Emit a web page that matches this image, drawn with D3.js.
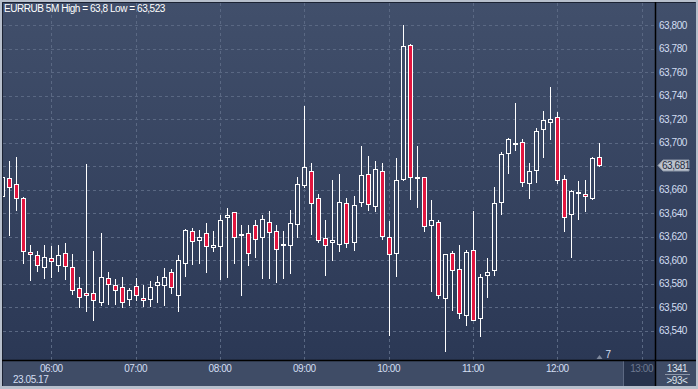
<!DOCTYPE html>
<html>
<head>
<meta charset="utf-8">
<script src="https://cdn.jsdelivr.net/npm/d3@7"></script>
<style>
  body { margin: 0; background: #b7bfcc; }
  svg { display: block; font-family: Arial, "Liberation Sans", sans-serif; }
</style>
</head>
<body>
<div id="chart"></div>
<script>
// EURRUB 5 minute bars, 23.05.17
let day = "2017-05-23"
let symbol = "EURRUB", period = "5M"

let times = [
  "05:25", "05:30", "05:35", "05:40", "05:45", "05:50", "05:55",
  "06:00", "06:05", "06:10", "06:15", "06:20", "06:25", "06:30", "06:35", "06:40", "06:45", "06:50", "06:55",
  "07:00", "07:05", "07:10", "07:15", "07:20", "07:25", "07:30", "07:35", "07:40", "07:45", "07:50", "07:55",
  "08:00", "08:05", "08:10", "08:15", "08:20", "08:25", "08:30", "08:35", "08:40", "08:45", "08:50", "08:55",
  "09:00", "09:05", "09:10", "09:15", "09:20", "09:25", "09:30", "09:35", "09:40", "09:45", "09:50", "09:55",
  "10:00", "10:05", "10:10", "10:15", "10:20", "10:25", "10:30", "10:35", "10:40", "10:45", "10:50", "10:55",
  "11:00", "11:05", "11:10", "11:15", "11:20", "11:25", "11:30", "11:35", "11:40", "11:45", "11:50", "11:55",
  "12:00", "12:05", "12:10", "12:15", "12:20", "12:25", "12:30"
]
let opens = [
  63.6546, 63.670, 63.665, 63.653, 63.607, 63.604, 63.594,
  63.602, 63.596, 63.606, 63.5945, 63.576, 63.572, 63.572, 63.564, 63.5845, 63.579, 63.577, 63.567,
  63.578, 63.568, 63.567, 63.579, 63.579, 63.590, 63.5705, 63.598, 63.625, 63.6175, 63.623, 63.611,
  63.612, 63.6365, 63.641, 63.622, 63.623, 63.630, 63.620, 63.6325, 63.625, 63.613, 63.613, 63.631,
  63.664, 63.676, 63.653, 63.619, 63.6155, 63.6135, 63.6485, 63.6155, 63.6495, 63.6735, 63.646, 63.676,
  63.620, 63.606, 63.669, 63.783, 63.670, 63.671, 63.630, 63.6325, 63.568, 63.606, 63.5925, 63.553,
  63.609, 63.551, 63.587, 63.592, 63.6495, 63.691, 63.700, 63.7005, 63.6655, 63.677, 63.7115, 63.7175,
  63.722, 63.669, 63.6395, 63.657, 63.656, 63.653, 63.688
]
let highs = [
  63.672, 63.684, 63.688, 63.654, 63.613, 63.608, 63.613,
  63.612, 63.613, 63.615, 63.6055, 63.586, 63.682, 63.608, 63.623, 63.590, 63.584, 63.586, 63.576,
  63.585, 63.579, 63.582, 63.5865, 63.593, 63.5925, 63.604, 63.6265, 63.627, 63.626, 63.632, 63.625,
  63.638, 63.644, 63.641, 63.6295, 63.630, 63.6345, 63.638, 63.642, 63.630, 63.6245, 63.643, 63.671,
  63.731, 63.683, 63.6565, 63.6345, 63.668, 63.6735, 63.653, 63.6545, 63.6975, 63.689, 63.684, 63.683,
  63.633, 63.6865, 63.800, 63.784, 63.6975, 63.671, 63.6515, 63.6345, 63.6055, 63.608, 63.613, 63.609,
  63.642, 63.588, 63.602, 63.6625, 63.692, 63.704, 63.734, 63.703, 63.6825, 63.712, 63.727, 63.7475,
  63.726, 63.672, 63.660, 63.667, 63.668, 63.688, 63.700
]
let lows = [
  63.652, 63.621, 63.643, 63.598, 63.583, 63.591, 63.585,
  63.586, 63.591, 63.584, 63.571, 63.560, 63.557, 63.549, 63.562, 63.563, 63.563, 63.560, 63.562,
  63.566, 63.561, 63.561, 63.564, 63.562, 63.572, 63.557, 63.5865, 63.597, 63.598, 63.5895, 63.608,
  63.584, 63.5855, 63.598, 63.5705, 63.596, 63.603, 63.585, 63.585, 63.581, 63.585, 63.589, 63.6195,
  63.662, 63.622, 63.6155, 63.587, 63.600, 63.608, 63.611, 63.609, 63.646, 63.643, 63.6415, 63.618,
  63.5365, 63.5865, 63.668, 63.652, 63.645, 63.6245, 63.574, 63.568, 63.523, 63.5575, 63.5505, 63.545,
  63.549, 63.5355, 63.569, 63.587, 63.639, 63.674, 63.694, 63.663, 63.653, 63.6665, 63.6875, 63.703,
  63.6655, 63.625, 63.603, 63.635, 63.6415, 63.652, 63.680
]
let closes = [
  63.6711, 63.662, 63.653, 63.608, 63.6055, 63.596, 63.603,
  63.599, 63.604, 63.595, 63.5745, 63.569, 63.5705, 63.566, 63.586, 63.580, 63.5745, 63.5645, 63.575,
  63.570, 63.5665, 63.5775, 63.581, 63.586, 63.577, 63.600, 63.626, 63.616, 63.620, 63.612, 63.613,
  63.6345, 63.638, 63.620, 63.6225, 63.606, 63.618, 63.635, 63.624, 63.6095, 63.614, 63.632, 63.665,
  63.679, 63.6485, 63.617, 63.613, 63.617, 63.6495, 63.6145, 63.647, 63.672, 63.648, 63.6775, 63.6205,
  63.605, 63.668, 63.782, 63.671, 63.6705, 63.629, 63.634, 63.570, 63.6055, 63.592, 63.555, 63.607,
  63.549, 63.586, 63.590, 63.6485, 63.6905, 63.703, 63.699, 63.6665, 63.676, 63.710, 63.719, 63.720,
  63.668, 63.637, 63.659, 63.658, 63.6545, 63.687, 63.681
]

let priceTicks = [63.54, 63.56, 63.58, 63.60, 63.62, 63.64, 63.66, 63.68, 63.70, 63.72, 63.74, 63.76, 63.78, 63.80]
let hourTicks = ["06:00", "07:00", "08:00", "09:00", "10:00", "11:00", "12:00", "13:00"]
let viewFrom = "05:25:38", viewTo = "13:09:30"
let tickCount = "7", footTop = "1341", footBottom = ">93<"

let width = 698,
    height = 389
let plotLeft = 3, plotRight = 655, plotTop = 3, plotBottom = 360

let parse = d3.timeParse("%Y-%m-%d %H:%M:%S")
let at = s => parse(day + " " + (s.length == 5 ? s + ":00" : s))

let bars = times.map((t, i) => ({
  t: at(t), o: opens[i], h: highs[i], l: lows[i], c: closes[i]
}))

let comma = f => v => f(v).replace(".", ",")
let fmt3 = comma(d3.format(".3f"))
let fmtShort = comma(d3.format(".3~f"))

let x = d3.scaleTime()
    .domain([at(viewFrom), at(viewTo)])
    .range([plotLeft, plotRight])

let y = d3.scaleLinear()
    .domain([63.54, 63.80])
    .range([330.7, 25])

let svg = d3.select("#chart").append("svg")
    .attr("width", width)
    .attr("height", height)

let defs = svg.append("defs")
let grad = defs.append("linearGradient")
    .attr("id", "bg")
    .attr("gradientUnits", "userSpaceOnUse")
    .attr("x1", 0).attr("y1", plotTop)
    .attr("x2", 0).attr("y2", plotBottom)
grad.append("stop").attr("offset", 0).attr("stop-color", "#414f6b")
grad.append("stop").attr("offset", 1).attr("stop-color", "#2b3855")

defs.append("clipPath").attr("id", "plot")
  .append("rect")
    .attr("x", plotLeft).attr("y", plotTop)
    .attr("width", plotRight - plotLeft).attr("height", plotBottom - plotTop)

// frame + panels
let darkFrom = Math.round(x(at("12:47"))) + 0.5
svg.append("rect")
    .attr("width", width).attr("height", height)
    .attr("fill", "#b7bfcc")
svg.append("rect")
    .attr("x", 2).attr("y", 2)
    .attr("width", width - 4).attr("height", plotBottom - 2)
    .attr("fill", "url(#bg)")
svg.append("rect")
    .attr("x", 2).attr("y", plotBottom)
    .attr("width", width - 4).attr("height", 26)
    .attr("fill", "#3f4c66")
svg.append("rect")
    .attr("x", darkFrom).attr("y", plotBottom)
    .attr("width", plotRight - darkFrom).attr("height", 26)
    .attr("fill", "#27334c")
svg.append("line")
    .attr("x1", darkFrom).attr("x2", darkFrom)
    .attr("y1", plotBottom).attr("y2", plotBottom + 26)
    .attr("stroke", "#5d6982")
svg.append("path")
    .attr("d", "M2.5," + (height - 3) + "V2.5H" + (width - 2.5))
    .attr("fill", "none")
    .attr("stroke", "#1b2233")

// grid
let grid = svg.append("g")
    .attr("stroke", "#5a6883")
    .attr("stroke-dasharray", "3,3")
    .attr("stroke-width", 1)
grid.selectAll(".hgrid")
  .data(priceTicks)
  .enter().append("line")
    .attr("x1", plotLeft).attr("x2", plotRight)
    .attr("y1", d => Math.round(y(d)) + 0.5)
    .attr("y2", d => Math.round(y(d)) + 0.5)
grid.selectAll(".vgrid")
  .data(hourTicks)
  .enter().append("line")
    .attr("x1", d => Math.round(x(at(d))) + 0.5)
    .attr("x2", d => Math.round(x(at(d))) + 0.5)
    .attr("y1", plotTop).attr("y2", plotBottom)

// candles
let candles = svg.append("g")
    .attr("clip-path", "url(#plot)")
  .selectAll("g")
  .data(bars)
  .enter().append("g")

candles.append("line")
    .attr("x1", d => Math.round(x(d.t)) + 0.5)
    .attr("x2", d => Math.round(x(d.t)) + 0.5)
    .attr("y1", d => Math.round(y(d.h)))
    .attr("y2", d => Math.round(y(d.l)) + 1)
    .attr("stroke", "#ffffff")

candles.append("rect")
    .attr("x", d => Math.round(x(d.t)) - 1.5)
    .attr("width", 4)
    .attr("y", d => Math.round(y(Math.max(d.o, d.c))) + 0.5)
    .attr("height", d => Math.max(1, Math.round(y(Math.min(d.o, d.c))) - Math.round(y(Math.max(d.o, d.c)))))
    .attr("fill", d => d.c < d.o ? "#e2163f" : "url(#bg)")
    .attr("stroke", "#ffffff")

// axes lines
svg.append("line")
    .attr("x1", 2).attr("x2", width - 2)
    .attr("y1", plotBottom + 0.5).attr("y2", plotBottom + 0.5)
    .attr("stroke", "#000").attr("stroke-width", 1.5)
svg.append("line")
    .attr("x1", plotRight + 0.5).attr("x2", plotRight + 0.5)
    .attr("y1", 2).attr("y2", height - 3)
    .attr("stroke", "#000").attr("stroke-width", 1.5)

// price labels (the one under the last price tag is covered, so skip it)
let last = bars[bars.length - 1]
svg.append("g")
  .selectAll("text")
  .data(priceTicks.filter(d => Math.abs(y(d) - y(last.c)) > 9))
  .enter().append("text")
    .attr("x", plotRight + 4)
    .attr("y", d => y(d) + 3.5)
    .attr("fill", "#d3def2")
    .attr("font-size", 10)
    .attr("letter-spacing", -0.45)
    .text(d => fmt3(d))

// time labels
svg.append("g")
  .selectAll("text")
  .data(hourTicks)
  .enter().append("text")
    .attr("x", d => x(at(d)))
    .attr("y", plotBottom + 12)
    .attr("text-anchor", "middle")
    .attr("fill", (d, i) => i == hourTicks.length - 1 ? "#6d7990" : "#d3def2")
    .attr("font-size", 10)
    .attr("letter-spacing", -0.45)
    .text(d => d)

svg.append("text")
    .attr("x", 13).attr("y", plotBottom + 23)
    .attr("fill", "#d3def2")
    .attr("font-size", 10)
    .attr("letter-spacing", -0.45)
    .text(d3.timeFormat("%d.%m.%y")(at("06:00")))

// title
svg.append("text")
    .attr("x", 4).attr("y", 12)
    .attr("fill", "#ffffff")
    .attr("font-size", 10)
    .attr("letter-spacing", -0.45)
    .text(symbol + " " + period + " High = " + fmtShort(d3.max(highs)) + " Low = " + fmtShort(d3.min(lows)))

// last price marker
let ly = Math.round(y(last.c)) + 0.5
svg.append("path")
    .attr("d", "M" + (plotRight + 3) + "," + ly + "L" + (plotRight + 8) + "," + (ly - 5.5) + "H" + (plotRight + 34) +
      "V" + (ly + 5.5) + "H" + (plotRight + 8) + "Z")
    .attr("fill", "#bcc3ce")
    .attr("stroke", "#8d97a8")
svg.append("text")
    .attr("x", plotRight + 7).attr("y", ly + 3.5)
    .attr("fill", "#1f2a3d")
    .attr("font-size", 10)
    .attr("letter-spacing", -0.45)
    .text(fmt3(last.c))

// little tick counter under the last bar
let lx = Math.round(x(last.t)) + 0.5
svg.append("path")
    .attr("d", "M" + (lx - 3) + "," + (plotBottom - 1) + "L" + lx + "," + (plotBottom - 5) + "L" + (lx + 3) + "," + (plotBottom - 1) + "Z")
    .attr("fill", "#7d879b")
svg.append("text")
    .attr("x", lx + 6).attr("y", plotBottom - 2)
    .attr("fill", "#d3def2")
    .attr("font-size", 10)
    .text(tickCount)

// footer box
svg.append("text")
    .attr("x", 677).attr("y", plotBottom + 12)
    .attr("text-anchor", "middle")
    .attr("fill", "#dde2ea")
    .attr("font-size", 10)
    .attr("letter-spacing", -0.45)
    .text(footTop)
svg.append("line")
    .attr("x1", 665).attr("x2", 690)
    .attr("y1", plotBottom + 14.5).attr("y2", plotBottom + 14.5)
    .attr("stroke", "#8c96a8")
svg.append("text")
    .attr("x", 677).attr("y", plotBottom + 24)
    .attr("text-anchor", "middle")
    .attr("fill", "#dde2ea")
    .attr("font-size", 10)
    .attr("letter-spacing", -0.45)
    .text(footBottom)
</script>
</body>
</html>
